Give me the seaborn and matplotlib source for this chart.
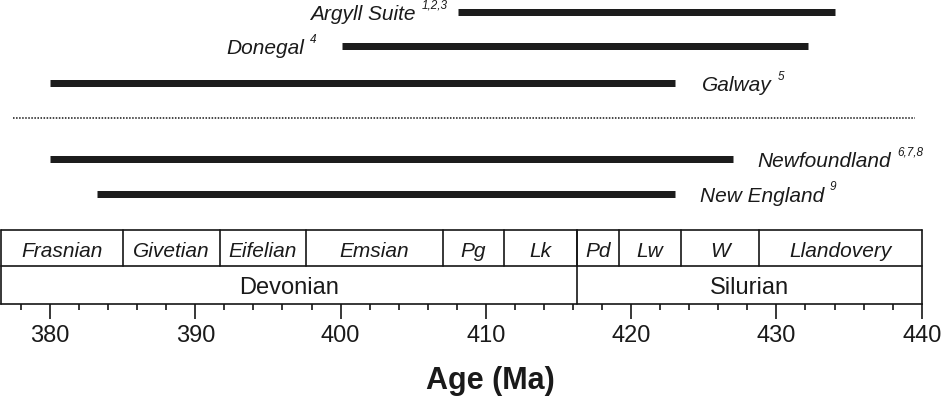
import numpy as np
import pandas as pd
import matplotlib
matplotlib.use("Agg")
import matplotlib.pyplot as plt
import seaborn as sns

# ---------------- data ----------------
sites = ["Argyll Suite", "Donegal", "Galway", "Newfoundland", "New England"]
refs = ["1,2,3", "4", "5", "6,7,8", "9"]
start_ma = [408.1, 400.1, 380.0, 380.0, 383.2]
end_ma = [434.0, 432.2, 423.0, 427.0, 423.0]

stages = ["Frasnian", "Givetian", "Eifelian", "Emsian", "Pg", "Lk",
          "Pd", "Lw", "W", "Llandovery"]
stage_bounds = [385.05, 391.70, 397.62, 407.03, 411.23, 416.25,
                419.15, 423.40, 428.80]
periods = ["Devonian", "Silurian"]
period_bounds = [416.25]

tick_major = [380, 390, 400, 410, 420, 430, 440]
tick_minor = [378, 382, 384, 386, 388, 392, 394, 396, 398, 402, 404, 406, 408,
              412, 414, 416, 418, 422, 424, 426, 428, 432, 434, 436, 438]
x_label = "Age (Ma)"

# ---------------- layout ----------------
W, H = 944, 397
X_MIN, X_MAX = 376.66, 440.0
AX_BOTTOM = 303.5               # pixel row of the x axis
ROW_Y = [11.7, 46.0, 82.7, 158.7, 193.7]   # pixel rows of the bars
LABEL_SIDE = ["left", "left", "right", "right", "right"]
LABEL_GAP = [42.7, 37.7, 27.4, 24.7, 25.0]  # px between bar end and label
DOT_Y, DOT_X0, DOT_X1 = 117.7, 377.45, 439.54
BOX_TOP, BOX_MID = 230.3, 266.3

BAR_C = "#1c1c1c"
LINE_C = "#151515"
TXT_C = "#1a1a1a"

sns.set_theme(style="ticks")
plt.rcParams["font.family"] = ["Liberation Sans", "DejaVu Sans"]
plt.rcParams["text.color"] = TXT_C
plt.rcParams["xtick.color"] = LINE_C
plt.rcParams["xtick.labelcolor"] = TXT_C

fig = plt.figure(figsize=(W / 100, H / 100), dpi=100)
ax = fig.add_axes([1.5 / W, (H - AX_BOTTOM) / H, (921.7 - 1.5) / W, AX_BOTTOM / H])

# bars via seaborn
df = pd.DataFrame({
    "site": np.repeat(sites, 2),
    "age": np.ravel(np.column_stack([start_ma, end_ma])),
    "y": np.repeat(ROW_Y, 2),
})
sns.lineplot(data=df, x="age", y="y", units="site", estimator=None, sort=False,
             color=BAR_C, linewidth=5.04, solid_capstyle="butt", legend=False, ax=ax)

ax.set_xlim(X_MIN, X_MAX)
ax.set_ylim(AX_BOTTOM, 0)
ax.set_xlabel("")
ax.set_ylabel("")

# dotted separator
ax.plot([DOT_X0, DOT_X1], [DOT_Y, DOT_Y], ls=(0, (1, 1)), lw=1.1, color=LINE_C)

# site labels
main_texts = []
for s, st, en, y, side, gap in zip(sites, start_ma, end_ma, ROW_Y, LABEL_SIDE, LABEL_GAP):
    if side == "left":
        t = ax.annotate(s, xy=(st, y), xytext=(-gap, -8.3), textcoords="offset pixels",
                        ha="right", va="baseline", fontsize=15, style="italic",
                        annotation_clip=False)
    else:
        t = ax.annotate(s, xy=(en, y), xytext=(gap, -8.3), textcoords="offset pixels",
                        ha="left", va="baseline", fontsize=15, style="italic",
                        annotation_clip=False)
    main_texts.append(t)

# time-scale box
lw_box = 1.2
ax.plot([X_MIN, X_MAX], [BOX_TOP, BOX_TOP], color=LINE_C, lw=lw_box, clip_on=False)
ax.plot([X_MIN, X_MAX], [BOX_MID, BOX_MID], color=LINE_C, lw=lw_box, clip_on=False)
for xb in [X_MIN, X_MAX] + period_bounds:
    ax.plot([xb, xb], [BOX_TOP, AX_BOTTOM], color=LINE_C, lw=lw_box, clip_on=False)
for xb in stage_bounds:
    ax.plot([xb, xb], [BOX_TOP, BOX_MID], color=LINE_C, lw=lw_box, clip_on=False)

sb = [X_MIN] + stage_bounds + [X_MAX]
for name, a, b in zip(stages, sb[:-1], sb[1:]):
    ax.text((a + b) / 2, 256.7, name, ha="center", va="baseline",
            fontsize=15, style="italic")
pb = [X_MIN] + period_bounds + [X_MAX]
for name, a, b in zip(periods, pb[:-1], pb[1:]):
    ax.text((a + b) / 2, 294.0, name, ha="center", va="baseline", fontsize=17)

# axis styling
for sp in ["top", "left", "right"]:
    ax.spines[sp].set_visible(False)
ax.spines["bottom"].set_linewidth(1.2)
ax.spines["bottom"].set_color(LINE_C)
ax.set_yticks([])
ax.set_xticks(tick_major)
ax.set_xticks(tick_minor, minor=True)
ax.set_xticklabels([str(v) for v in tick_major])
ax.tick_params(axis="x", which="major", length=10.8, width=1.2, pad=5, labelsize=17,
               direction="out")
ax.tick_params(axis="x", which="minor", length=4.3, width=1.2, direction="out")
ax.set_facecolor("white")
fig.patch.set_facecolor("white")

fig.text(490 / W, 1 - 389 / H, x_label, ha="center", va="baseline",
         fontsize=22, fontweight="bold")

# superscript references
fig.canvas.draw()
for t, r, y in zip(main_texts, refs, ROW_Y):
    bb = t.get_window_extent()
    ydisp = ax.transData.transform((X_MIN, y))[1]
    fig.text((bb.x1 + 6) / W, (ydisp + 3.2) / H, r, ha="left", va="baseline",
             fontsize=8.5, style="italic")

fig.savefig("out.png", dpi=100)
